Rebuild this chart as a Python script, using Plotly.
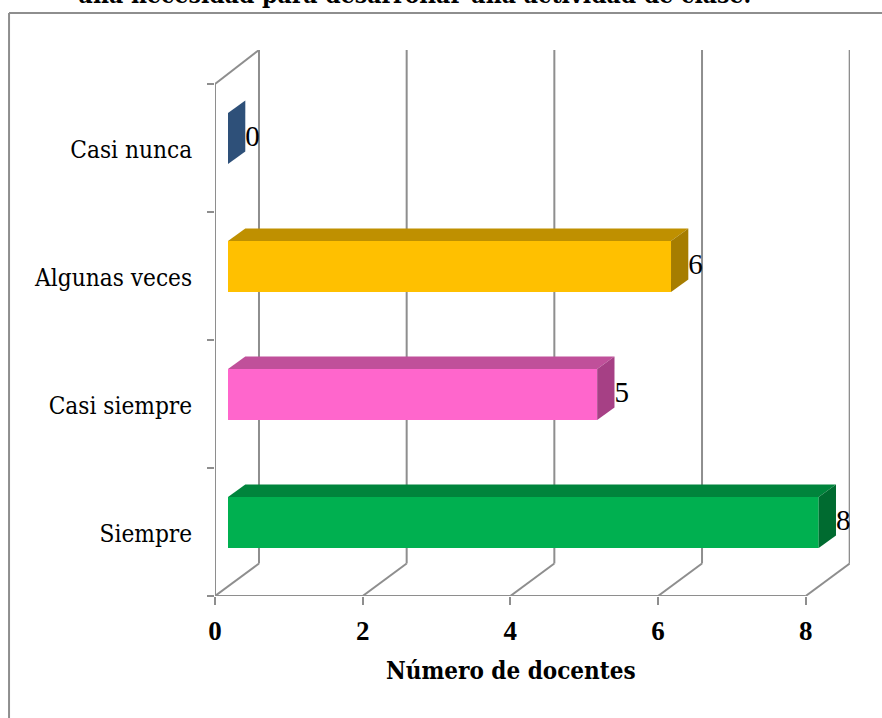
import plotly.graph_objects as go

# Bottom to top, as the chart reads
categories = ['Siempre', 'Casi siempre', 'Algunas veces', 'Casi nunca']
docentes = [8, 5, 6, 0]
x_ticks = [0, 2, 4, 6, 8]

front_colors = ['#00B050', '#FF66CC', '#FFC000', '#376092']
top_colors = ['#00843C', '#C0509A', '#BF9000', '#2E5079']
side_colors = ['#006B30', '#A64085', '#A67D00', '#2E5079']

# Pixel layout of the plot, everything below is in axis units
W, H = 882, 718
LEFT, BOTTOM, TOP = 215, 596, 50
PX_PER_X = 73.85
PX_PER_CAT = 128
plot_w = 8.6 * PX_PER_X
plot_h = BOTTOM - TOP
y_low, y_high = -0.5, -0.5 + plot_h / PX_PER_CAT

# Fake 3D: how far the back wall and the bars are pushed
wall_dx, wall_dy = 44 / PX_PER_X, 32.5 / PX_PER_CAT
bar_x0, bar_shift = 13 / PX_PER_X, 9.5 / PX_PER_CAT
bar_h = 51 / PX_PER_CAT
depth_dx, depth_dy = 17.3 / PX_PER_X, 12.5 / PX_PER_CAT
label_nudge = 2 / PX_PER_CAT  # category labels sit a touch below centre

GRAY = '#8E8E8E'
SERIF = 'DejaVu Serif Condensed'
DIGITS = 'Liberation Serif'


def paper_x(px):
    return (px - LEFT) / plot_w


def paper_y(py):
    return (BOTTOM - py) / plot_h


fig = go.Figure()

# Front faces
fig.add_trace(go.Bar(
    x=docentes, y=list(range(len(categories))), orientation='h', base=bar_x0,
    width=bar_h, offset=bar_shift - bar_h / 2,
    marker=dict(color=front_colors, line=dict(width=0)),
    hoverinfo='skip',
))

# Top and side faces, plus the value labels
for i, v in enumerate(docentes):
    x1 = bar_x0 + v
    y0 = i + bar_shift - bar_h / 2
    y1 = i + bar_shift + bar_h / 2
    if v > 0:
        fig.add_trace(go.Scatter(
            x=[bar_x0, x1, x1 + depth_dx, bar_x0 + depth_dx, bar_x0],
            y=[y1, y1, y1 + depth_dy, y1 + depth_dy, y1],
            mode='lines', fill='toself', fillcolor=top_colors[i],
            line=dict(width=0), hoverinfo='skip',
        ))
    fig.add_trace(go.Scatter(
        x=[x1, x1 + depth_dx, x1 + depth_dx, x1, x1],
        y=[y0, y0 + depth_dy, y1 + depth_dy, y1, y0],
        mode='lines', fill='toself', fillcolor=side_colors[i],
        line=dict(width=0), hoverinfo='skip',
    ))
    fig.add_trace(go.Scatter(
        x=[x1 + depth_dx], y=[i + bar_shift],
        mode='text', text=[str(v)], textposition='middle right',
        textfont=dict(family=DIGITS, size=29, color='black'),
        hoverinfo='skip',
    ))

# Walls go under the bars, so they have to be shapes
walls = []
line = dict(color=GRAY, width=2)
for t in x_ticks:
    walls.append(dict(type='line', x0=t, y0=y_low, x1=t + wall_dx, y1=y_low + wall_dy))
    walls.append(dict(type='line', x0=t + wall_dx, y0=y_low + wall_dy, x1=t + wall_dx, y1=y_high))
walls.append(dict(type='line', x0=0, y0=y_low, x1=0, y1=3.5))
walls.append(dict(type='line', x0=0, y0=3.5, x1=wall_dx, y1=y_high))
walls.append(dict(type='line', x0=0, y0=y_low, x1=x_ticks[-1], y1=y_low))
for s in walls:
    s.update(xref='x', yref='y', layer='below', line=line)

# Frame round the chart, it runs off the right and bottom of the image
frame = dict(type='line', xref='paper', yref='paper', line=dict(color=GRAY, width=2), layer='below')
walls.append(dict(frame, x0=paper_x(9), y0=paper_y(13), x1=paper_x(W + 5), y1=paper_y(13)))
walls.append(dict(frame, x0=paper_x(9), y0=paper_y(13), x1=paper_x(9), y1=paper_y(H + 5)))

fig.update_layout(
    width=W, height=H,
    margin=dict(l=LEFT, r=W - LEFT - plot_w, t=TOP, b=H - BOTTOM, pad=0),
    paper_bgcolor='white', plot_bgcolor='rgba(0,0,0,0)',
    showlegend=False, barmode='overlay',
    shapes=walls,
    xaxis=dict(
        range=[0, 8.6], tickvals=x_ticks, showgrid=False, zeroline=False,
        showline=False, ticks='outside', ticklen=8, tickwidth=2, tickcolor=GRAY,
        ticklabelstandoff=3,
        tickfont=dict(family=DIGITS, size=27, color='black', weight=700),
    ),
    yaxis=dict(
        range=[y_low, y_high], showgrid=False, zeroline=False, showline=False,
        tickvals=[c - label_nudge for c in range(len(categories))], ticktext=categories,
        ticks='outside', ticklen=17, tickwidth=1, tickcolor='rgba(0,0,0,0)',
        # Tick marks sit between the categories, so they are the minor ticks
        minor=dict(tickvals=[c - 0.5 for c in range(len(categories) + 1)],
                   ticks='outside', ticklen=7, tickwidth=2, tickcolor=GRAY),
        tickfont=dict(family=SERIF, size=24.2, color='black'),
    ),
    annotations=[
        dict(text='<b>Número de docentes</b>', xref='paper', yref='paper',
             x=paper_x(511), y=paper_y(670), xanchor='center', yanchor='middle',
             showarrow=False, font=dict(family=SERIF, size=24, color='black')),
        dict(text='<b>una necesidad para desarrollar una actividad de clase.</b>',
             xref='paper', yref='paper', x=paper_x(414), y=paper_y(-5),
             xanchor='center', yanchor='middle', showarrow=False,
             font=dict(family=SERIF, size=24.5, color='black')),
    ],
)

# Drop the default page margin so the figure starts at the window corner
fig.write_html("out.html", post_script="document.body.style.margin='0';",
               config=dict(displayModeBar=False))
